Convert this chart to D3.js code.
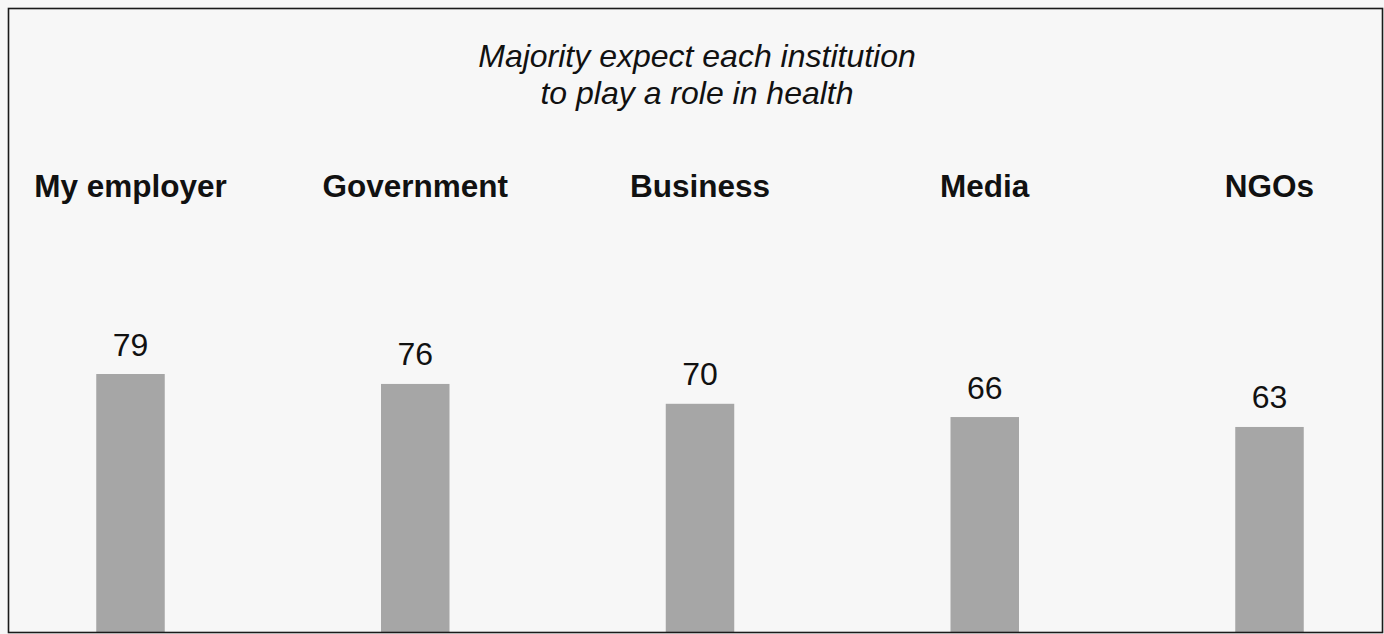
<!DOCTYPE html>
<html>
<head>
<meta charset="utf-8">
<script src="https://cdn.jsdelivr.net/npm/d3@7"></script>
<style>
html,body{margin:0;padding:0;background:#f7f7f7;}
svg{display:block;}
text{font-family:"Liberation Sans",Arial,sans-serif;fill:#111;}
</style>
</head>
<body>
<svg id="chart" width="1384" height="634"></svg>
<script>
const categories = ["My employer", "Government", "Business", "Media", "NGOs"];
const values = [79, 76, 70, 66, 63];
const titleLines = ["Majority expect each institution", "to play a role in health"];

const W = 1384, H = 634;
const svg = d3.select("#chart");

svg.append("rect")
  .attr("x", 0).attr("y", 0).attr("width", W).attr("height", H)
  .attr("fill", "#f7f7f7");

const x = d3.scalePoint().domain(categories).range([130.5, 1269.5]);
const y = d3.scaleLinear().domain([0, 100]).range([635.5, 304.5]);
const barW = 68.5;

const g = svg.append("g");
const frameClip = svg.append("clipPath").attr("id", "fc");
frameClip.append("rect").attr("x", 8).attr("y", 8).attr("width", 1375).attr("height", 624);

g.append("g").attr("clip-path", "url(#fc)")
  .selectAll("rect.bar").data(values).join("rect")
  .attr("class", "bar")
  .attr("x", (d, i) => x(categories[i]) - barW / 2)
  .attr("width", barW)
  .attr("y", d => y(d))
  .attr("height", d => y(0) - y(d))
  .attr("fill", "#a6a6a6");

g.selectAll("text.val").data(values).join("text")
  .attr("class", "val")
  .attr("x", (d, i) => x(categories[i]))
  .attr("y", d => y(d) - 18.5)
  .attr("text-anchor", "middle")
  .style("font-size", "32px")
  .text(d => d);

g.selectAll("text.cat").data(categories).join("text")
  .attr("class", "cat")
  .attr("x", d => x(d))
  .attr("y", 197)
  .attr("text-anchor", "middle")
  .style("font-size", "31.5px")
  .style("font-weight", "bold")
  .text(d => d);

g.selectAll("text.title").data(titleLines).join("text")
  .attr("class", "title")
  .attr("x", 697)
  .attr("y", (d, i) => 66.5 + i * 37.5)
  .attr("text-anchor", "middle")
  .style("font-size", "32px")
  .style("font-style", "italic")
  .text(d => d);

svg.append("rect")
  .attr("x", 8.5).attr("y", 8.5).attr("width", 1374).attr("height", 624)
  .attr("fill", "none").attr("stroke", "#1a1a1a").attr("stroke-width", 1.6);
</script>
</body>
</html>
